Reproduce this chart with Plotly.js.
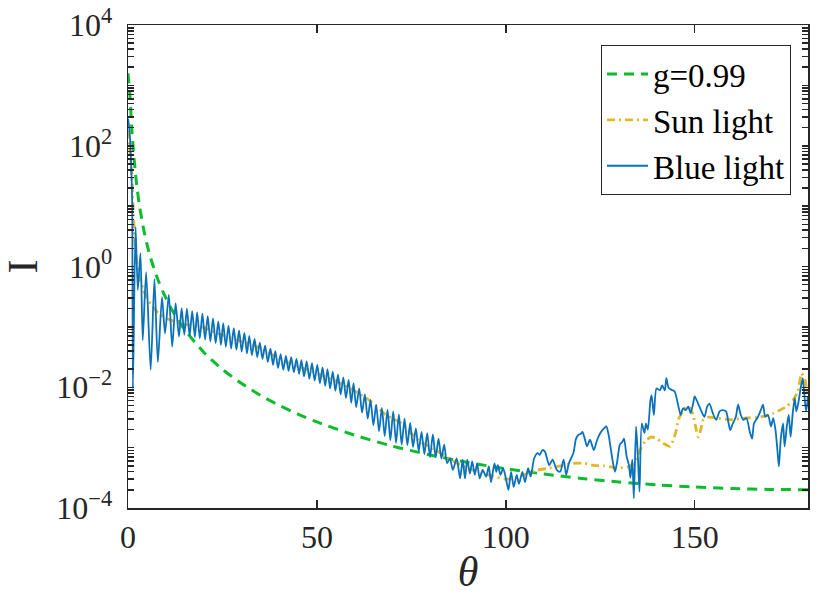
<!DOCTYPE html>
<html><head><meta charset="utf-8">
<script src="https://cdn.plot.ly/plotly-3.0.1.min.js"></script>
<style>html,body{margin:0;padding:0;background:#fff}</style>
</head><body><div id="chart" style="width:830px;height:616px"></div>
<script>
// g = 0.99 reference curve
const gTheta = [0,0.5,1,1.5,2,2.5,3,4,5,6,8,10,12,15,20,25,30,35,40,45,50,60,70,80,90,100,110,120,130,140,150,160,170,180];
const gI = [1584,682,197,72.9,33.5,17.9,10.6,4.58,2.37,1.38,0.588,0.302,0.175,0.0902,0.0383,0.0198,0.0116,0.00739,0.00502,0.00359,0.00266,0.00161,0.00106,0.000757,0.000568,0.000447,0.000366,0.000309,0.00027,0.000242,0.000223,0.00021,0.000203,0.000201];

// Sun light
const sunTheta = [0,0.5,1,1.4,1.9,2.7,4,5,6,8,10,12,15,19,24,29,33,37,42,46,51,55,60,64,68,72,77,81,86,90,95,100,103,105.5,108,111.7,114.5,117.9,120.7,123.2,126,129.4,132.9,134.6,135.5,137,138.6,140,141.5,143.5,145,145.7,147,147.9,148.8,149.6,150.4,151,151.7,152.3,153.5,155.8,159.3,163.7,167.2,170.8,174.3,176.1,177.3,178.3,179.2,180];
const sunI = [180,80,31,8.7,2.1,0.8,0.42,0.3,0.24,0.17,0.14,0.125,0.11,0.102,0.077,0.060,0.050,0.038,0.026,0.021,0.016,0.0126,0.0087,0.006,0.0036,0.0026,0.0013,0.00095,0.0006,0.00045,0.00036,0.0003,0.00032,0.00037,0.00042,0.00046,0.0005,0.00055,0.00055,0.00051,0.0005,0.00046,0.00049,0.00066,0.00091,0.0013,0.0015,0.0014,0.0012,0.00105,0.0018,0.0029,0.0042,0.0048,0.0045,0.0035,0.002,0.0015,0.0021,0.0029,0.0032,0.0031,0.0029,0.0031,0.0032,0.0037,0.0048,0.0062,0.0085,0.017,0.0132,0.0063];

// Blue light
const blueTheta = [0.0,0.4,0.8,1.1,1.3,2.0,2.6,3.3,3.9,4.8,6.0,7.0,7.9,9.0,9.8,10.8,11.7,12.6,13.5,
14.2,14.9,15.6,16.3,17.0,17.7,18.3,19.0,19.7,20.4,21.1,21.8,22.5,23.2,23.9,24.6,25.2,25.9,26.6,27.3,28.0,28.7,29.4,30.1,30.8,31.5,32.1,32.8,33.5,34.2,34.9,35.6,36.3,37.0,37.7,38.4,39.0,39.7,40.4,41.1,41.8,42.5,43.2,43.9,44.6,45.3,45.9,46.6,47.3,48.0,48.7,49.4,50.1,50.8,51.5,52.2,52.8,53.5,54.2,54.9,55.6,56.3,57.0,57.7,58.4,59.1,59.7,60.4,
61.2,61.95,62.7,63.45,64.2,64.95,65.7,66.45,67.2,67.95,68.7,69.45,70.2,70.95,71.7,72.45,73.2,73.95,74.7,75.45,76.2,76.95,77.7,78.45,79.2,79.95,80.7,81.45,82.2,82.95,83.7,84.45,
85.2,86.0,87.0,87.9,88.6,89.2,89.8,90.5,91.1,91.8,92.4,93.1,93.9,94.8,95.5,96.1,97.0,97.5,97.9,98.6,99.3,100.0,100.7,101.4,102.1,102.9,103.5,104.4,105.1,105.9,106.6,107.5,108.4,109.0,109.7,110.4,110.9,111.5,112.4,113.5,114.4,115.3,116.0,116.7,117.9,118.6,119.2,119.9,120.3,120.9,121.5,122.3,123.3,124.2,125.1,126.0,126.6,127.2,127.7,128.4,128.9,129.5,130.2,130.9,131.3,132.0,132.6,133.0,133.5,133.9,134.5,135.0,135.4,136.0,136.7,137.1,137.6,138.3,138.6,139.2,139.9,140.8,141.4,142.1,142.5,143.1,143.8,144.7,145.6,146.3,146.9,147.6,148.3,148.9,149.6,150.0,150.9,151.8,152.6,153.3,153.9,154.8,155.7,156.6,157.4,158.3,158.9,159.4,160.1,160.9,161.5,162.2,162.9,163.7,164.6,165.2,165.7,166.6,167.5,168.1,168.7,169.4,170.2,170.8,171.4,171.9,172.3,172.8,173.4,173.8,174.4,174.9,175.4,176.0,176.5,176.9,177.5,178.0,178.6,179.0,179.5,180.0];
const blueI = [280,180,55,12,0.0095,4.5,0.41,1.66,0.06,0.81,0.0195,0.62,0.026,0.31,0.078,0.34,0.047,0.245,0.069,
0.204,0.0741,0.200,0.0708,0.182,0.0676,0.174,0.0646,0.166,0.0617,0.151,0.0575,0.138,0.0537,0.123,0.0501,0.115,0.0468,0.105,0.0437,0.0955,0.0417,0.0871,0.0389,0.0794,0.0363,0.0708,0.0339,0.0631,0.0316,0.0550,0.0295,0.0490,0.0263,0.0437,0.0234,0.0398,0.0209,0.0355,0.0195,0.0331,0.0186,0.0316,0.0178,0.0295,0.0166,0.0282,0.0151,0.0269,0.0138,0.0251,0.0129,0.0234,0.0117,0.0214,0.0105,0.0200,0.00955,0.0182,0.00871,0.0162,0.00759,0.0145,0.00661,0.0132,0.00550,0.0117,0.00468,
0.00955,0.00380,0.00759,0.00302,0.00617,0.00234,0.00513,0.00186,0.00457,0.00155,0.00427,0.00132,0.00398,0.00120,0.00355,0.00112,0.00302,0.00110,0.00257,0.00102,0.00209,0.000871,0.00182,0.000776,0.00174,0.000692,0.00166,0.000692,0.00141,0.000661,0.00112,0.000550,
0.000661,0.000427,0.000661,0.000309,0.000631,0.000309,0.000631,0.000372,0.000589,0.000355,0.000550,0.000309,0.000427,0.000331,0.000490,0.000269,0.000550,0.000398,0.000513,0.000355,0.000457,0.000316,0.000200,0.000398,0.000224,0.000355,0.000251,0.000398,0.000269,0.000457,0.000331,0.000661,0.000813,0.000759,0.000912,0.000851,0.000661,0.000513,0.000631,0.000427,0.000398,0.000631,0.000355,0.000550,0.000813,0.00141,0.00162,0.00170,0.00182,0.00141,0.00105,0.00135,0.000912,0.00135,0.00178,0.00209,0.00224,0.00166,0.00105,0.000550,0.000398,0.000589,0.00112,0.00126,0.00141,0.000708,0.000513,0.000316,0.000631,0.000145,0.00224,0.000631,0.000186,0.00251,0.00174,0.00251,0.00200,0.00617,0.00741,0.00347,0.00955,0.00891,0.0107,0.00891,0.0141,0.00977,0.00912,0.00851,0.00513,0.00347,0.00447,0.00417,0.00479,0.00372,0.00537,0.00708,0.00537,0.00398,0.00324,0.00479,0.00537,0.00372,0.00288,0.00398,0.00417,0.00398,0.00269,0.00195,0.00251,0.00324,0.00513,0.00347,0.00288,0.00309,0.00182,0.00141,0.00251,0.00309,0.00417,0.00513,0.00324,0.00347,0.00224,0.00309,0.00195,0.000912,0.000490,0.00141,0.00251,0.00105,0.00224,0.00347,0.00151,0.00398,0.00661,0.00398,0.00575,0.00912,0.0141,0.00794,0.00398,0.00708];

const xTickVals = [0, 50, 100, 150];
const xTickText = ['0', '50', '100', '150'];
// labelled y ticks (every two decades)
const yLabelVals = [1e-4, 1e-2, 1, 1e2, 1e4];
const yLabelText = ['10<sup>\u22124</sup>', '10<sup>\u22122</sup>', '10<sup>0</sup>', '10<sup>2</sup>', '10<sup>4</sup>'];
const seriesNames = ['g=0.99', 'Sun light', 'Blue light'];

// all y tick positions: labelled ones plus unlabelled 1..9 x each decade
const decades = [-4, -3, -2, -1, 0, 1, 2, 3];
const minorDigits = [1, 2, 3, 4, 5, 6, 7, 8, 9];
const yTickVals = yLabelVals.slice();
const yTickText = yLabelText.slice();
decades.forEach(d => minorDigits.forEach(m => {
  if (!(m === 1 && d % 2 === 0)) { yTickVals.push(m * Math.pow(10, d)); yTickText.push(''); }
}));

const axisColor = '#262626';
const traces = [
  {x: gTheta, y: gI, name: seriesNames[0], mode: 'lines', type: 'scatter',
   line: {color: '#0cbc2c', width: 3, dash: '10px,7px', shape: 'spline', smoothing: 0.8}},
  {x: sunTheta, y: sunI, name: seriesNames[1], mode: 'lines', type: 'scatter',
   line: {color: '#e2b82a', width: 2.8, dash: '8px,4px,2px,4px', shape: 'spline', smoothing: 0.6}},
  {x: blueTheta, y: blueI, name: seriesNames[2], mode: 'lines', type: 'scatter',
   line: {color: '#0a72bd', width: 1.8, shape: 'spline', smoothing: 0.7}}
];

const layout = {
  width: 830, height: 616,
  margin: {l: 128, r: 22, t: 25, b: 108, pad: 0},
  paper_bgcolor: '#ffffff', plot_bgcolor: '#ffffff',
  font: {family: '"Liberation Serif", serif', color: axisColor, size: 32},
  showlegend: true,
  legend: {x: 0.975, xanchor: 'right', y: 0.9586, yanchor: 'top', bgcolor: '#ffffff',
           bordercolor: axisColor, borderwidth: 1, font: {size: 33, color: '#000000'},
           tracegroupgap: 0, traceorder: 'normal', itemwidth: 41,
           entrywidth: 165, entrywidthmode: 'pixels'},
  xaxis: {range: [0, 180], tickmode: 'array', tickvals: xTickVals, ticktext: xTickText,
          ticks: 'inside', ticklen: 8, tickwidth: 1.5, tickcolor: axisColor,
          showline: true, linecolor: axisColor, linewidth: 1.5, mirror: 'ticks',
          showgrid: false, zeroline: false, automargin: false, layer: 'above traces',
          tickfont: {size: 32, color: axisColor}, ticklabelstandoff: 0,
          title: {text: '<i>\u03b8</i>', font: {size: 42, color: axisColor}, standoff: 2}},
  yaxis: {type: 'log', range: [-4, 4], tickmode: 'array', tickvals: yTickVals, ticktext: yTickText,
          ticks: 'inside', ticklen: 6, tickwidth: 1.5, tickcolor: axisColor,
          showline: true, linecolor: axisColor, linewidth: 1.5, mirror: 'ticks',
          showgrid: false, zeroline: false, automargin: false, layer: 'above traces',
          tickfont: {size: 32, color: axisColor}, ticklabelstandoff: 8,
          title: {text: 'I', font: {size: 42, color: axisColor}, standoff: 14}}
};

Plotly.newPlot('chart', traces, layout, {displayModeBar: false, staticPlot: true});
</script>
</body></html>
